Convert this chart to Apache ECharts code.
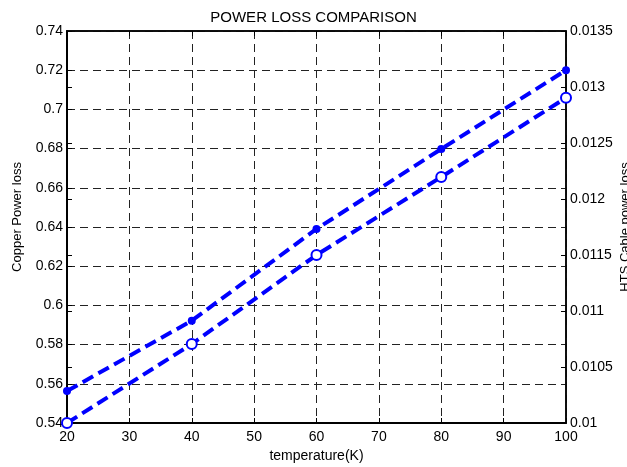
<!DOCTYPE html>
<html>
<head>
<meta charset="utf-8">
<script src="https://cdn.jsdelivr.net/npm/echarts@6/dist/echarts.min.js"></script>
<style>
html,body{margin:0;padding:0;background:#fff;}
#chart{width:627px;height:467px;}
</style>
</head>
<body>
<div id="chart"></div>
<script>
var temperatures = [20, 40, 60, 80, 100];
var copperLoss = [0.5563, 0.5922, 0.639, 0.6798, 0.72];
var htsLoss = [0.01, 0.010705, 0.0115, 0.012196, 0.012904];
var titleText = 'POWER LOSS COMPARISON';
var xName = 'temperature(K)';
var leftName = 'Copper Power loss';
var rightName = 'HTS Cable power loss';

var FONT = "Arial, 'Liberation Sans', sans-serif";
var chart = echarts.init(document.getElementById('chart'), null, {renderer: 'canvas'});

function pairs(xs, ys) { return xs.map(function (x, i) { return [x, ys[i]]; }); }

var option = {
  animation: false,
  backgroundColor: '#fff',
  title: {
    text: titleText, left: 'center', top: 5,
    textStyle: {fontFamily: FONT, fontSize: 15, fontWeight: 'normal', color: '#000'}
  },
  grid: {left: 67, right: 61, top: 31, bottom: 44, containLabel: false, outerBoundsMode: 'none',
         show: true, borderColor: '#000', borderWidth: 1.5},
  xAxis: [{
    type: 'value', min: 20, max: 100, interval: 10,
    name: xName, nameLocation: 'middle', nameGap: 24,
    nameTextStyle: {fontFamily: FONT, fontSize: 14, color: '#000'},
    axisLine: {lineStyle: {color: '#000', width: 2}},
    axisTick: {inside: true, length: 5, lineStyle: {color: '#000'}},
    axisLabel: {fontFamily: FONT, fontSize: 14, color: '#000', margin: 7},
    splitLine: {show: true, lineStyle: {color: '#222', width: 1, type: [8, 5]}}
  }, {
    type: 'value', min: 20, max: 100, interval: 10, position: 'top',
    axisLine: {show: true, lineStyle: {color: '#000', width: 1.5}},
    axisTick: {inside: true, length: 5, lineStyle: {color: '#000'}},
    axisLabel: {show: false}, splitLine: {show: false}
  }],
  yAxis: [{
    type: 'value', min: 0.54, max: 0.74, interval: 0.02, position: 'left',
    name: leftName, nameLocation: 'middle', nameGap: 43, nameRotate: 90,
    nameTextStyle: {fontFamily: FONT, fontSize: 13, color: '#000', padding: [0, 0, 0, 20]},
    axisLine: {show: true, lineStyle: {color: '#000', width: 2}},
    axisTick: {show: true, inside: true, length: 5, lineStyle: {color: '#000'}},
    axisLabel: {fontFamily: FONT, fontSize: 14, color: '#000', margin: 4},
    splitLine: {show: true, lineStyle: {color: '#222', width: 1, type: [8, 5]}}
  }, {
    type: 'value', min: 0.01, max: 0.0135, interval: 0.0005, position: 'right',
    name: rightName, nameLocation: 'middle', nameGap: 53, nameRotate: 90, nameMoveOverlap: false,
    nameTextStyle: {fontFamily: FONT, fontSize: 13, color: '#000'},
    axisLine: {show: true, lineStyle: {color: '#000', width: 1.5}},
    axisTick: {show: true, inside: true, length: 5, lineStyle: {color: '#000'}},
    axisLabel: {fontFamily: FONT, fontSize: 14, color: '#000', margin: 4},
    splitLine: {show: false}
  }, {
    type: 'value', min: 0.01, max: 0.0135, interval: 0.0005, position: 'left', offset: 0,
    axisLine: {show: false},
    axisTick: {show: true, inside: true, length: 5, lineStyle: {color: '#000'}},
    axisLabel: {show: false}, splitLine: {show: false}
  }],
  series: [{
    name: leftName, type: 'line', xAxisIndex: 0, yAxisIndex: 0,
    data: pairs(temperatures, copperLoss),
    clip: false,
    symbol: 'circle', symbolSize: 8,
    itemStyle: {color: '#0000ff'},
    lineStyle: {color: '#0000ff', width: 4, type: [12, 6]}
  }, {
    name: rightName, type: 'line', xAxisIndex: 0, yAxisIndex: 1,
    data: pairs(temperatures, htsLoss),
    clip: false,
    symbol: 'emptyCircle', symbolSize: 10,
    itemStyle: {color: '#0000ff', borderColor: '#0000ff', borderWidth: 4},
    lineStyle: {color: '#0000ff', width: 4, type: [12, 6]}
  }]
};
chart.setOption(option);
</script>
</body>
</html>
